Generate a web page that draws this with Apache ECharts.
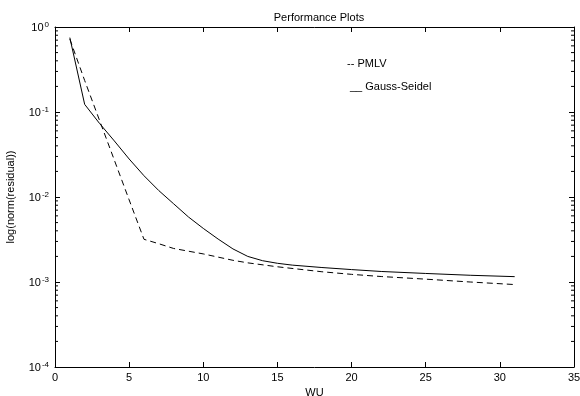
<!DOCTYPE html>
<html>
<head>
<meta charset="utf-8">
<script src="https://cdn.jsdelivr.net/npm/echarts@6/dist/echarts.min.js"></script>
<style>html,body{margin:0;padding:0;background:#fff}#c{width:580px;height:396px}</style>
</head>
<body>
<div id="c"></div>
<script>
// Data
const titleText = 'Performance Plots';
const xLabel = 'WU';
const yLabel = 'log(norm(residual))';
const legendPMLV = '-- PMLV';
const legendGS = '__ Gauss-Seidel';

const pmlvX = [1, 2, 3, 4, 5, 6, 7, 8, 10, 12, 13, 15, 18, 20, 22, 25, 28, 31];
const pmlvY = [0.72, 0.235, 0.0800, 0.0272, 0.00925, 0.00318, 0.00282, 0.00248, 0.00214, 0.0018, 0.00168, 0.00151, 0.00132, 0.00123, 0.00116, 0.00108, 0.00100, 0.000933];

const gsX = [1, 2, 3, 4, 5, 6, 7, 8, 9, 10, 11, 12, 13, 14, 15, 16, 18, 20, 22, 25, 28, 31];
const gsY = [0.75, 0.123, 0.0735, 0.0457, 0.0280, 0.0178, 0.0119, 0.00832, 0.00582, 0.00427, 0.00320, 0.00245, 0.00200, 0.00178, 0.00166, 0.00158, 0.00148, 0.00140, 0.00133, 0.00126, 0.00120, 0.001156];

const xTicks = [0, 5, 10, 15, 20, 25, 30, 35];
const yDecades = [-4, -3, -2, -1, 0];
const minorMult = [2, 3, 4, 5, 6, 7, 8, 9];

const minorTicks = [];
for (let i = 0; i < yDecades.length - 1; i++) {
  for (const m of minorMult) minorTicks.push([xTicks[0], m * Math.pow(10, yDecades[i])]);
}

const font = 'Liberation Sans, Arial, Helvetica, sans-serif';
const chart = echarts.init(document.getElementById('c'), null, {renderer: 'canvas'});
const axisLine = {show: true, onZero: false, lineStyle: {color: '#000', width: 1}};

chart.setOption({
  animation: false,
  backgroundColor: '#fff',
  grid: {left: 55, right: 6, top: 27, bottom: 29, containLabel: false, outerBoundsMode: 'none'},
  title: {
    text: titleText, left: 314, top: 7, textAlign: 'center',
    textStyle: {fontFamily: font, fontSize: 11, fontWeight: 'normal', color: '#000'}
  },
  xAxis: [{
    type: 'value', min: xTicks[0], max: xTicks[xTicks.length - 1], interval: 5,
    axisLine: axisLine,
    axisTick: {show: true, inside: true, length: 5, lineStyle: {color: '#000'}},
    axisLabel: {fontFamily: font, fontSize: 11, color: '#000', margin: 5},
    splitLine: {show: false},
    name: xLabel, nameLocation: 'middle', nameGap: 18,
    nameTextStyle: {fontFamily: font, fontSize: 11, color: '#000'}
  }, {
    type: 'value', position: 'top', min: xTicks[0], max: xTicks[xTicks.length - 1], interval: 5,
    axisLine: axisLine,
    axisTick: {show: true, inside: true, length: 5, lineStyle: {color: '#000'}},
    axisLabel: {show: false}, splitLine: {show: false}
  }],
  yAxis: [{
    type: 'log', logBase: 10, min: 1e-4, max: 1, interval: 1,
    axisLine: axisLine,
    axisTick: {show: true, inside: true, length: 5, lineStyle: {color: '#000'}},
    axisLabel: {
      margin: 6,
      formatter: v => '{b|10}{s|' + Math.round(Math.log10(v)) + '}',
      rich: {
        b: {fontFamily: font, fontSize: 11, color: '#000', lineHeight: 13, verticalAlign: 'bottom'},
        s: {fontFamily: font, fontSize: 8, color: '#000', lineHeight: 13, verticalAlign: 'top', padding: [0, 0, 0, 1]}
      }
    },
    splitLine: {show: false},
    name: yLabel, nameLocation: 'middle', nameGap: 39,
    nameTextStyle: {fontFamily: font, fontSize: 11, color: '#000'}
  }, {
    type: 'log', logBase: 10, min: 1e-4, max: 1, interval: 1, position: 'right',
    axisLine: axisLine,
    axisTick: {show: true, inside: true, length: 5, lineStyle: {color: '#000'}},
    axisLabel: {show: false}, splitLine: {show: false}
  }],
  series: [{
    name: 'PMLV', type: 'line', showSymbol: false, symbol: 'none',
    data: pmlvX.map((x, i) => [x, pmlvY[i]]),
    lineStyle: {color: '#000', width: 1, type: [6, 4]}
  }, {
    name: 'Gauss-Seidel', type: 'line', showSymbol: false, symbol: 'none',
    data: gsX.map((x, i) => [x, gsY[i]]),
    lineStyle: {color: '#000', width: 1, type: 'solid'}
  }, {
    type: 'custom', data: minorTicks, silent: true, clip: false,
    renderItem: (params, api) => {
      const v = api.value(1);
      const l = api.coord([xTicks[0], v]);
      const r = api.coord([xTicks[xTicks.length - 1], v]);
      return {type: 'group', children: [
        {type: 'line', shape: {x1: l[0], y1: l[1], x2: l[0] + 3, y2: l[1]}, style: {stroke: '#000', lineWidth: 1}},
        {type: 'line', shape: {x1: r[0], y1: r[1], x2: r[0] - 3, y2: r[1]}, style: {stroke: '#000', lineWidth: 1}}
      ]};
    }
  }],
  graphic: [
    {type: 'text', left: 347, top: 58, style: {text: legendPMLV, font: '11px ' + font, fill: '#000'}},
    {type: 'text', left: 350, top: 81, style: {text: legendGS, font: '11px ' + font, fill: '#000'}}
  ]
});
</script>
</body>
</html>
